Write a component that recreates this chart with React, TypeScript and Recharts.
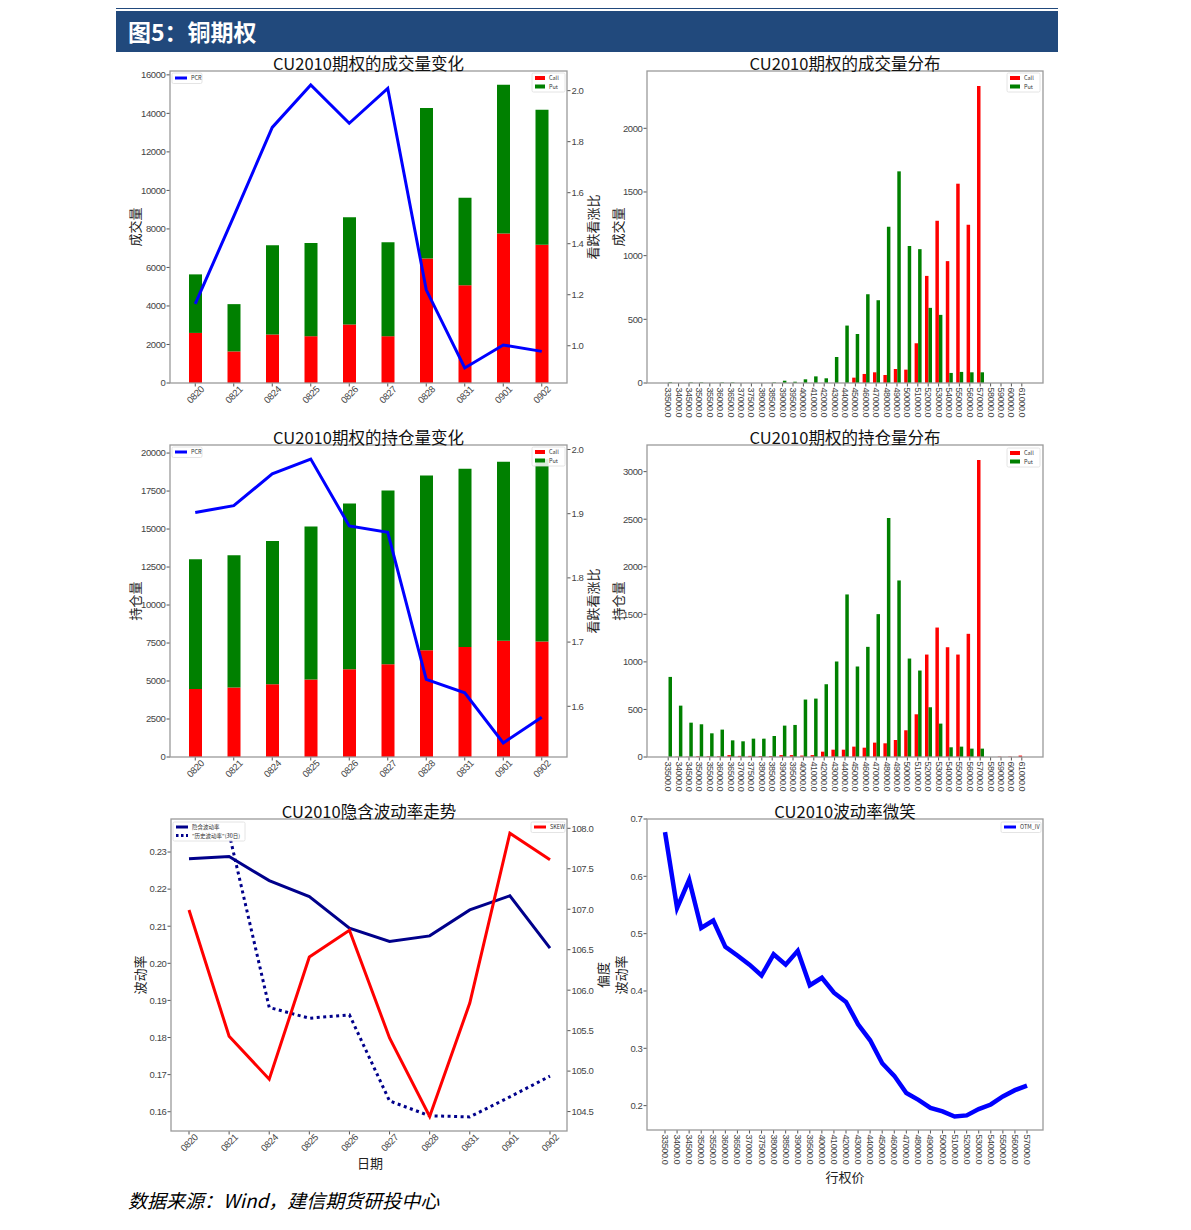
import React from "react";
import { ComposedChart, BarChart, LineChart, Bar, Line, XAxis, YAxis } from "recharts";

const TICK_FONT = "'Liberation Sans', Arial, sans-serif";
const CJK_FONT = "'Noto Sans CJK SC', 'Noto Sans', sans-serif";

// trade dates
const dates = ["0820", "0821", "0824", "0825", "0826", "0827", "0828", "0831", "0901", "0902"];

// volume (成交量) by date
const volCall = [2600, 1640, 2520, 2430, 3040, 2430, 6460, 5070, 7760, 7180];
const volPut = [3040, 2455, 4630, 4840, 5570, 4880, 7820, 4550, 7720, 7010];
const volPcr = [1.164, 1.507, 1.856, 2.022, 1.872, 2.009, 1.219, 0.913, 1.003, 0.978];

// open interest (持仓量) by date
const oiCall = [4480, 4570, 4790, 5100, 5780, 6110, 7030, 7230, 7650, 7600];
const oiPut = [8530, 8700, 9430, 10070, 10900, 11430, 11500, 11740, 11780, 12000];
const oiPcr = [1.902, 1.9125, 1.962, 1.985, 1.881, 1.871, 1.642, 1.621, 1.543, 1.583];

// strikes
const strikes = [
  33500, 34000, 34500, 35000, 35500, 36000, 36500, 37000, 37500, 38000, 38500, 39000, 39500,
  40000, 41000, 42000, 43000, 44000, 45000, 46000, 47000, 48000, 49000, 50000, 51000, 52000,
  53000, 54000, 55000, 56000, 57000, 58000, 59000, 60000, 61000,
];
const volDistCall = [
  0, 0, 0, 0, 0, 0, 0, 0, 0, 0, 0, 0, 0, 0, 0, 0, 0, 0, 42, 71, 84, 63, 110, 105, 312, 841, 1274,
  957, 1565, 1242, 2333, 0, 0, 0, 0,
];
const volDistPut = [
  5, 0, 4, 4, 0, 4, 4, 0, 0, 0, 4, 18, 10, 29, 52, 37, 204, 451, 385, 697, 650, 1227, 1662, 1075,
  1051, 590, 535, 79, 87, 84, 84, 0, 0, 0, 0,
];
const oiDistCall = [
  0, 3, 3, 8, 8, 8, 20, 12, 12, 10, 10, 20, 20, 15, 20, 56, 77, 77, 109, 98, 151, 144, 179, 281,
  449, 1077, 1361, 1154, 1077, 1295, 3123, 0, 4, 4, 15,
];
const oiDistPut = [
  842, 540, 361, 344, 249, 288, 175, 165, 193, 193, 221, 330, 337, 604, 614, 765, 1004, 1709, 951,
  1158, 1502, 2512, 1856, 1035, 909, 523, 351, 102, 109, 88, 88, 0, 0, 0, 0,
];

// volatility by date
const impliedVol = [0.2282, 0.2288, 0.2223, 0.218, 0.2095, 0.2059, 0.2074, 0.2144, 0.2182, 0.2041];
const histVol = [null, 0.235, 0.1881, 0.1852, 0.1861, 0.1629, 0.1589, 0.1586, 0.164, 0.1696];
const skew = [106.99, 105.43, 104.9, 106.41, 106.74, 105.41, 104.44, 105.84, 107.94, 107.61];

// smile (first 31 strikes)
const smileStrikes = strikes.slice(0, 31);
const smileIv = [
  0.677, 0.545, 0.594, 0.51, 0.523, 0.477, 0.462, 0.446, 0.427, 0.464, 0.446, 0.47, 0.41, 0.423,
  0.397, 0.381, 0.342, 0.314, 0.274, 0.252, 0.222, 0.21, 0.196, 0.19, 0.181, 0.183, 0.194, 0.202,
  0.216, 0.227, 0.235,
];

// ticks
const volTicks = [0, 2000, 4000, 6000, 8000, 10000, 12000, 14000, 16000];
const volPcrTicks = [1.0, 1.2, 1.4, 1.6, 1.8, 2.0];
const oiTicks = [0, 2500, 5000, 7500, 10000, 12500, 15000, 17500, 20000];
const oiPcrTicks = [1.6, 1.7, 1.8, 1.9, 2.0];
const volDistTicks = [0, 500, 1000, 1500, 2000];
const oiDistTicks = [0, 500, 1000, 1500, 2000, 2500, 3000];
const ivTicks = [0.16, 0.17, 0.18, 0.19, 0.2, 0.21, 0.22, 0.23];
const skewTicks = [104.5, 105.0, 105.5, 106.0, 106.5, 107.0, 107.5, 108.0];
const smileTicks = [0.2, 0.3, 0.4, 0.5, 0.6, 0.7];

const tickStyle = { fontSize: 9.5, fill: "#444", fontFamily: TICK_FONT, letterSpacing: -0.4 };
const tickLine = { stroke: "#555" };

const DateTick = (props: any) => {
  const { x, y, payload } = props;
  const cy = y + 6;
  return (
    <text
      x={x}
      y={cy}
      transform={`rotate(-45, ${x}, ${cy})`}
      textAnchor="middle"
      dominantBaseline="central"
      {...tickStyle}
    >
      {payload.value}
    </text>
  );
};

const StrikeTick = (props: any) => {
  const { x, y, payload } = props;
  const sy = y - 1;
  return (
    <text
      x={x}
      y={sy}
      transform={`rotate(90, ${x}, ${sy})`}
      textAnchor="start"
      dominantBaseline="central"
      {...tickStyle}
      fontSize={9}
    >
      {Number(payload.value).toFixed(1)}
    </text>
  );
};

function VolumeChange() {
  const data = dates.map((d, i) => ({ date: d, call: volCall[i], put: volPut[i], pcr: volPcr[i] }));
  return (
    <div style={{ position: "absolute", left: 110, top: 50 }}>
      <ComposedChart width={500} height={370} data={data} margin={{ top: 21, right: 0, bottom: 0, left: 0 }}>
        <XAxis dataKey="date" height={37} interval={0} tick={<DateTick />} tickSize={3.5} tickLine={tickLine} axisLine={false} padding={{ left: 6, right: 6 }} />
        <YAxis yAxisId="left" width={60} domain={[0, 16200]} ticks={volTicks} allowDataOverflow tick={tickStyle} tickSize={3.5} tickMargin={1} tickLine={tickLine} axisLine={false} />
        <YAxis yAxisId="right" orientation="right" width={43} domain={[0.854, 2.077]} ticks={volPcrTicks} allowDataOverflow tickFormatter={(v: number) => v.toFixed(1)} tick={tickStyle} tickSize={3.5} tickMargin={1} tickLine={tickLine} axisLine={false} />
        <Bar yAxisId="left" dataKey="call" stackId="s" fill="#ff0000" barSize={13} isAnimationActive={false} />
        <Bar yAxisId="left" dataKey="put" stackId="s" fill="#008000" barSize={13} isAnimationActive={false} />
        <Line yAxisId="right" type="linear" dataKey="pcr" stroke="#0000ff" strokeWidth={3} dot={false} isAnimationActive={false} />
      </ComposedChart>
    </div>
  );
}

function OiChange() {
  const data = dates.map((d, i) => ({ date: d, call: oiCall[i], put: oiPut[i], pcr: oiPcr[i] }));
  return (
    <div style={{ position: "absolute", left: 110, top: 425 }}>
      <ComposedChart width={500} height={370} data={data} margin={{ top: 20, right: 0, bottom: 0, left: 0 }}>
        <XAxis dataKey="date" height={38} interval={0} tick={<DateTick />} tickSize={3.5} tickLine={tickLine} axisLine={false} padding={{ left: 6, right: 6 }} />
        <YAxis yAxisId="left" width={60} domain={[0, 20530]} ticks={oiTicks} allowDataOverflow tick={tickStyle} tickSize={3.5} tickMargin={1} tickLine={tickLine} axisLine={false} />
        <YAxis yAxisId="right" orientation="right" width={43} domain={[1.521, 2.007]} ticks={oiPcrTicks} allowDataOverflow tickFormatter={(v: number) => v.toFixed(1)} tick={tickStyle} tickSize={3.5} tickMargin={1} tickLine={tickLine} axisLine={false} />
        <Bar yAxisId="left" dataKey="call" stackId="s" fill="#ff0000" barSize={13} isAnimationActive={false} />
        <Bar yAxisId="left" dataKey="put" stackId="s" fill="#008000" barSize={13} isAnimationActive={false} />
        <Line yAxisId="right" type="linear" dataKey="pcr" stroke="#0000ff" strokeWidth={3} dot={false} isAnimationActive={false} />
      </ComposedChart>
    </div>
  );
}

function Distribution({ top, call, put, max, ticks }: { top: number; call: number[]; put: number[]; max: number; ticks: number[] }) {
  const data = strikes.map((s, i) => ({ strike: s, call: call[i], put: put[i] }));
  return (
    <div style={{ position: "absolute", left: 600, top }}>
      <BarChart width={460} height={380} data={data} barGap={0} margin={{ top: top === 50 ? 21 : 20, right: 17, bottom: 0, left: 0 }}>
        <XAxis dataKey="strike" height={top === 50 ? 47 : 48} interval={0} tick={<StrikeTick />} tickSize={3.5} tickLine={tickLine} axisLine={false} padding={{ left: 16, right: 16 }} />
        <YAxis width={47} domain={[0, max]} ticks={ticks} allowDataOverflow tick={tickStyle} tickSize={3.5} tickMargin={1} tickLine={tickLine} axisLine={false} />
        <Bar dataKey="call" fill="#ff0000" barSize={3.5} isAnimationActive={false} />
        <Bar dataKey="put" fill="#008000" barSize={3.5} isAnimationActive={false} />
      </BarChart>
    </div>
  );
}

function VolTrend() {
  const data = dates.map((d, i) => ({ date: d, iv: impliedVol[i], hv: histVol[i], skew: skew[i] }));
  return (
    <div style={{ position: "absolute", left: 110, top: 800 }}>
      <LineChart width={500} height={380} data={data} margin={{ top: 19, right: 0, bottom: 0, left: 0 }}>
        <XAxis dataKey="date" scale="point" height={49} interval={0} tick={<DateTick />} tickSize={3.5} tickLine={tickLine} axisLine={false} padding={{ left: 18, right: 17 }} />
        <YAxis yAxisId="left" width={61} domain={[0.1548, 0.2389]} ticks={ivTicks} allowDataOverflow tickFormatter={(v: number) => v.toFixed(2)} tick={tickStyle} tickSize={3.5} tickMargin={1} tickLine={tickLine} axisLine={false} />
        <YAxis yAxisId="right" orientation="right" width={43} domain={[104.26, 108.115]} ticks={skewTicks} allowDataOverflow tickFormatter={(v: number) => v.toFixed(1)} tick={tickStyle} tickSize={3.5} tickMargin={1} tickLine={tickLine} axisLine={false} />
        <Line yAxisId="left" type="linear" dataKey="iv" stroke="#00008b" strokeWidth={3} dot={false} isAnimationActive={false} />
        <Line yAxisId="left" type="linear" dataKey="hv" stroke="#00008b" strokeWidth={3} strokeDasharray="3 3.5" dot={false} isAnimationActive={false} />
        <Line yAxisId="right" type="linear" dataKey="skew" stroke="#ff0000" strokeWidth={3} dot={false} isAnimationActive={false} />
      </LineChart>
    </div>
  );
}

function Smile() {
  const data = smileStrikes.map((s, i) => ({ strike: s, iv: smileIv[i] }));
  return (
    <div style={{ position: "absolute", left: 600, top: 800 }}>
      <LineChart width={460} height={390} data={data} margin={{ top: 19, right: 17, bottom: 0, left: 0 }}>
        <XAxis dataKey="strike" scale="point" height={60} interval={0} tick={<StrikeTick />} tickSize={3.5} tickLine={tickLine} axisLine={false} padding={{ left: 18, right: 16 }} />
        <YAxis width={47} domain={[0.1575, 0.7]} ticks={smileTicks} allowDataOverflow tickFormatter={(v: number) => v.toFixed(1)} tick={tickStyle} tickSize={3.5} tickMargin={1} tickLine={tickLine} axisLine={false} />
        <Line type="linear" dataKey="iv" stroke="#0000ff" strokeWidth={4.5} dot={false} isAnimationActive={false} />
      </LineChart>
    </div>
  );
}

type LegendItem = { label: string; color: string; kind: "rect" | "line" | "dot" };

function LegendBox({ x, y, w, items }: { x: number; y: number; w: number; items: LegendItem[] }) {
  const h = items.length * 8.5 + 2;
  return (
    <g>
      <rect x={x} y={y} width={w} height={h} rx={1.5} fill="#fff" fillOpacity={0.85} stroke="#ddd" strokeWidth={0.8} />
      {items.map((it, i) => {
        const cy = y + 5 + i * 8.5;
        return (
          <g key={it.label}>
            {it.kind === "rect" ? (
              <rect x={x + 3} y={cy - 2} width={10} height={4} fill={it.color} />
            ) : (
              <line x1={x + 3} x2={x + 15} y1={cy} y2={cy} stroke={it.color} strokeWidth={3} strokeDasharray={it.kind === "dot" ? "2.5 2.5" : undefined} />
            )}
            <text x={x + (it.kind === "rect" ? 17 : 19)} y={cy} fontSize={5.5} fill="#333" fontFamily={CJK_FONT} dominantBaseline="central">
              {it.label}
            </text>
          </g>
        );
      })}
    </g>
  );
}

const callPut: LegendItem[] = [
  { label: "Call", color: "#ff0000", kind: "rect" },
  { label: "Put", color: "#008000", kind: "rect" },
];

function Title({ x, y, text }: { x: number; y: number; text: string }) {
  return (
    <text x={x} y={y} textAnchor="middle" dominantBaseline="central" fontSize={16.5} fill="#111" fontFamily={CJK_FONT}>
      {text}
    </text>
  );
}

function VLabel({ x, y, text }: { x: number; y: number; text: string }) {
  return (
    <text x={x} y={y} transform={`rotate(-90, ${x}, ${y})`} textAnchor="middle" dominantBaseline="central" fontSize={13} fill="#222" fontFamily={CJK_FONT}>
      {text}
    </text>
  );
}

function Overlay() {
  const frame = { fill: "none", stroke: "#9a9a9a", strokeWidth: 1.3 };
  return (
    <svg width={1191} height={1230} style={{ position: "absolute", left: 0, top: 0, pointerEvents: "none" }}>
      <rect x={170} y={71} width={397} height={312} {...frame} />
      <rect x={647} y={71} width={396} height={312} {...frame} />
      <rect x={170} y={445} width={397} height={312} {...frame} />
      <rect x={647} y={445} width={396} height={312} {...frame} />
      <rect x={171} y={819} width={396} height={312} {...frame} />
      <rect x={647} y={819} width={396} height={311} {...frame} />

      <Title x={368.5} y={63} text="CU2010期权的成交量变化" />
      <Title x={845} y={63} text="CU2010期权的成交量分布" />
      <Title x={368.5} y={437} text="CU2010期权的持仓量变化" />
      <Title x={845} y={437} text="CU2010期权的持仓量分布" />
      <Title x={369} y={811} text="CU2010隐含波动率走势" />
      <Title x={845} y={811} text="CU2010波动率微笑" />

      <VLabel x={134} y={227} text="成交量" />
      <VLabel x={592} y={227} text="看跌看涨比" />
      <VLabel x={617} y={227} text="成交量" />
      <VLabel x={134} y={601} text="持仓量" />
      <VLabel x={592} y={601} text="看跌看涨比" />
      <VLabel x={617} y={601} text="持仓量" />
      <VLabel x={139} y={975} text="波动率" />
      <VLabel x={602} y={975} text="偏度" />
      <VLabel x={620} y={975} text="波动率" />
      <text x={370} y={1162} textAnchor="middle" dominantBaseline="central" fontSize={13} fill="#222" fontFamily={CJK_FONT}>日期</text>
      <text x={845} y={1176} textAnchor="middle" dominantBaseline="central" fontSize={13} fill="#222" fontFamily={CJK_FONT}>行权价</text>

      <LegendBox x={172} y={73} w={30} items={[{ label: "PCR", color: "#0000ff", kind: "line" }]} />
      <LegendBox x={532} y={73} w={33} items={callPut} />
      <LegendBox x={1007} y={73} w={33} items={callPut} />
      <LegendBox x={172} y={447} w={30} items={[{ label: "PCR", color: "#0000ff", kind: "line" }]} />
      <LegendBox x={532} y={447} w={33} items={callPut} />
      <LegendBox x={1007} y={448} w={33} items={callPut} />
      <LegendBox
        x={173}
        y={822}
        w={72}
        items={[
          { label: "隐含波动率", color: "#00008b", kind: "line" },
          { label: "\"历史波动率\"(30日)", color: "#00008b", kind: "dot" },
        ]}
      />
      <LegendBox x={531} y={822} w={34} items={[{ label: "SKEW", color: "#ff0000", kind: "line" }]} />
      <LegendBox x={1001} y={822} w={40} items={[{ label: "OTM_IV", color: "#0000ff", kind: "line" }]} />
    </svg>
  );
}

export default function App() {
  return (
    <div style={{ position: "relative", width: 1191, height: 1230, background: "#fff", overflow: "hidden" }}>
      <style>{"body{margin:0;}"}</style>
      <div style={{ position: "absolute", left: 116, top: 8, width: 942, height: 1, background: "#21497c" }} />
      <div
        style={{
          position: "absolute",
          left: 116,
          top: 11,
          width: 942,
          height: 41,
          background: "#21497c",
          color: "#fff",
          fontFamily: CJK_FONT,
          fontWeight: 700,
          fontSize: 23,
          lineHeight: "41px",
          paddingLeft: 12,
          boxSizing: "border-box",
        }}
      >
        图5：铜期权
      </div>
      <VolumeChange />
      <Distribution top={50} call={volDistCall} put={volDistPut} max={2450} ticks={volDistTicks} />
      <OiChange />
      <Distribution top={425} call={oiDistCall} put={oiDistPut} max={3280} ticks={oiDistTicks} />
      <VolTrend />
      <Smile />
      <Overlay />
      <div
        style={{
          position: "absolute",
          left: 128,
          top: 1187,
          fontFamily: CJK_FONT,
          fontStyle: "italic",
          fontSize: 19,
          lineHeight: "26px",
          color: "#000",
          whiteSpace: "nowrap",
        }}
      >
        数据来源：Wind，建信期货研投中心
      </div>
    </div>
  );
}
